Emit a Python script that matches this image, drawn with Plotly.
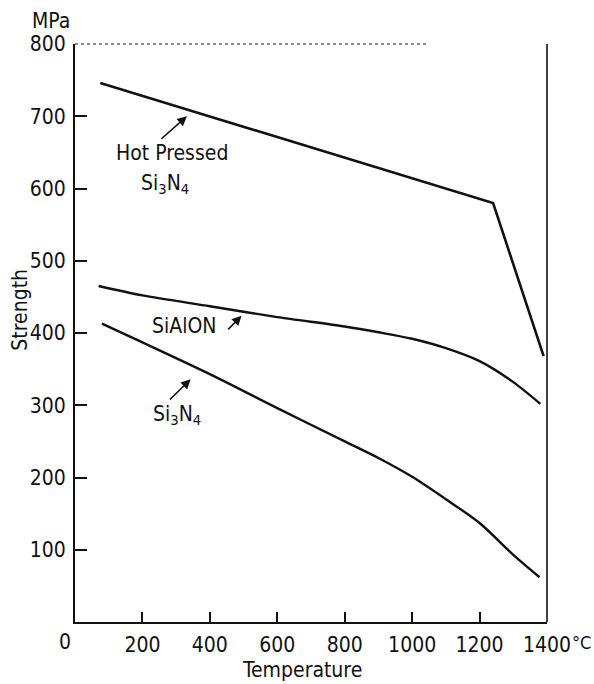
import plotly.graph_objects as go

# Data (Temperature in °C, Strength in MPa)
hp_temp = [75, 1240, 1390]
hp_strength = [746, 580, 368]

sialon_temp = [70, 200, 400, 600, 800, 900, 1000, 1100, 1200, 1300, 1380]
sialon_strength = [465, 452, 437, 422, 409, 401, 392, 379, 361, 332, 302]

si3n4_temp = [80, 200, 400, 600, 800, 900, 1000, 1100, 1200, 1300, 1378]
si3n4_strength = [413, 387, 343, 296, 250, 227, 201, 170, 137, 93, 62]

x_ticks = [200, 400, 600, 800, 1000, 1200, 1400]
y_ticks = [100, 200, 300, 400, 500, 600, 700, 800]

FONT = "Liberation Sans Narrow, DejaVu Sans Condensed, Liberation Sans, sans-serif"
INK = "#111111"
FS = 21

fig = go.Figure()
fig.add_trace(go.Scatter(x=hp_temp, y=hp_strength, mode="lines",
                         line=dict(color=INK, width=2.6), name="Hot Pressed Si3N4"))
fig.add_trace(go.Scatter(x=sialon_temp, y=sialon_strength, mode="lines",
                         line=dict(color=INK, width=2.4, shape="spline", smoothing=0.8), name="SiAlON"))
fig.add_trace(go.Scatter(x=si3n4_temp, y=si3n4_strength, mode="lines",
                         line=dict(color=INK, width=2.4, shape="spline", smoothing=0.8), name="Si3N4"))

fig.update_layout(
    width=594, height=684,
    margin=dict(l=75, r=47, t=44, b=62),
    paper_bgcolor="white", plot_bgcolor="white",
    showlegend=False,
    font=dict(family=FONT, size=FS, color=INK),
    xaxis=dict(range=[0, 1400], tickvals=x_ticks, ticks="inside", ticklen=10, tickwidth=1.5,
               tickcolor=INK, showline=True, linecolor=INK, linewidth=2, showgrid=False,
               zeroline=False, ticklabelstandoff=3, tickfont=dict(size=FS)),
    yaxis=dict(range=[0, 800], tickvals=y_ticks, ticks="inside", ticklen=12, tickwidth=1.5,
               tickcolor=INK, showline=True, linecolor=INK, linewidth=2, showgrid=False,
               zeroline=False, ticklabelstandoff=3, tickfont=dict(size=FS)),
)

# right frame line (solid) and faded dotted top line
fig.add_shape(type="line", xref="paper", yref="paper", x0=1, x1=1, y0=0, y1=1,
              line=dict(color=INK, width=1.6))
fig.add_shape(type="line", xref="paper", yref="paper", x0=0, x1=0.75, y0=1, y1=1,
              line=dict(color="#666666", width=1.5, dash="dot"))

def label(text, x, y, ref="paper", angle=0, xanchor="center", size=FS):
    fig.add_annotation(text=text, xref=ref, yref=ref if ref == "paper" else "y",
                       x=x, y=y, xanchor=xanchor, yanchor="middle", textangle=angle,
                       showarrow=False, font=dict(size=size, family=FONT, color=INK))

# axis texts
label("MPa", -0.05, 1.04)
label("Strength", -0.117, 0.54, angle=-90)
label("Temperature", 0.481, -0.083)
label("0", -0.021, -0.035)
label("°C", 1.049, -0.035, xanchor="left", size=18)

# curve labels (data coordinates)
label("Hot Pressed", 288, 649, ref="x")
label("Si<sub>3</sub>N<sub>4</sub>", 267, 606, ref="x")
label("SiAlON", 323, 410, ref="x")
label("Si<sub>3</sub>N<sub>4</sub>", 303, 287, ref="x")

# arrows
arrows = [((332, 700), (252, 667)), ((494, 424), (450, 403)), ((343, 336), (277, 306))]
for (hx, hy), (tx, ty) in arrows:
    fig.add_annotation(x=hx, y=hy, ax=tx, ay=ty, axref="x", ayref="y", text="",
                       showarrow=True, arrowhead=2, arrowsize=1.2, arrowwidth=1.6,
                       arrowcolor=INK)

fig.write_html("out.html")
